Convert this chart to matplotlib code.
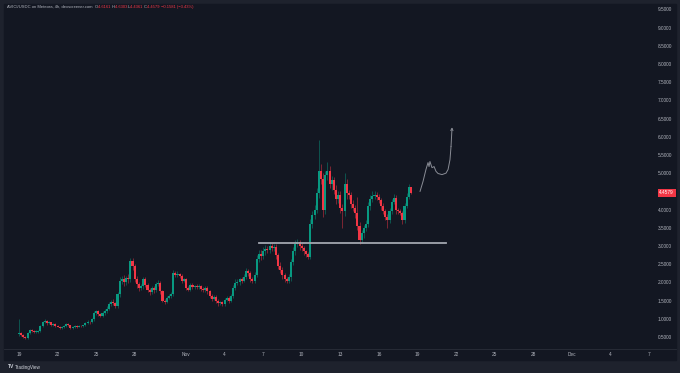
"""AVICI/USDC 4h candles, TradingView style."""
import numpy as np
import pandas as pd
import matplotlib
matplotlib.use("Agg")
import matplotlib.pyplot as plt
import matplotlib.dates as mdates
from matplotlib.patches import Rectangle

# -------------------------------------------------------
# Data.
# -------------------------------------------------------
start = "2024-10-19"
first_open = 0.58
closes = [
    0.62, 0.55, 0.50, 0.47, 0.60, 0.68,
    0.66, 0.64, 0.65, 0.67, 0.80, 0.90,
    0.93, 0.88, 0.90, 0.82, 0.85, 0.80,
    0.78, 0.74, 0.76, 0.80, 0.86, 0.82,
    0.74, 0.77, 0.80, 0.78, 0.81, 0.80,
    0.82, 0.88, 0.92, 0.90, 0.98, 1.15,
    1.20, 1.12, 1.08, 1.15, 1.22, 1.28,
    1.40, 1.46, 1.42, 1.35, 1.68, 2.05,
    2.10, 2.02, 2.12, 2.08, 2.60, 2.45,
    2.10, 1.95, 1.85, 1.90, 2.10, 1.92,
    1.80, 1.74, 1.85, 1.78, 1.95, 1.98,
    1.75, 1.50, 1.46, 1.58, 1.62, 1.68,
    2.25, 2.20, 2.22, 2.18, 2.05, 2.08,
    1.85, 1.80, 1.92, 1.88, 1.90, 1.86,
    1.90, 1.82, 1.78, 1.85, 1.75, 1.62,
    1.55, 1.60, 1.48, 1.42, 1.45, 1.40,
    1.52, 1.58, 1.50, 1.62, 1.85, 1.98,
    2.02, 2.08, 2.05, 2.15, 2.30, 2.25,
    2.10, 2.05, 2.20, 2.65, 2.78, 2.72,
    2.85, 2.92, 2.88, 3.00, 2.95, 2.98,
    2.75, 2.45, 2.35, 2.20, 2.10, 2.05,
    2.15, 2.55, 2.85, 3.05, 3.10, 3.00,
    2.95, 2.85, 2.78, 2.70, 3.60, 3.85,
    4.00, 4.45, 5.05, 4.85, 4.00, 4.95,
    5.05, 4.70, 4.80, 4.55, 4.30, 4.40,
    4.05, 3.95, 4.70, 4.45, 4.40, 4.15,
    4.05, 3.90, 3.55, 3.17, 3.35, 3.50,
    3.60, 4.10, 4.30, 4.38, 4.40, 4.35,
    4.25, 4.10, 3.95, 3.80, 3.72, 3.95,
    4.20, 4.32, 3.98, 3.95, 3.90, 3.70,
    4.10, 4.35, 4.6161, 4.4579,
]
up_wick = [
    0.38, 0.03, 0.02, 0.03, 0.03, 0.04,
    0.03, 0.02, 0.03, 0.02, 0.04, 0.05,
    0.05, 0.03, 0.03, 0.02, 0.04, 0.03,
    0.02, 0.02, 0.03, 0.03, 0.03, 0.02,
    0.02, 0.02, 0.03, 0.02, 0.02, 0.03,
    0.02, 0.04, 0.04, 0.03, 0.03, 0.05,
    0.05, 0.04, 0.03, 0.05, 0.04, 0.06,
    0.06, 0.05, 0.08, 0.04, 0.06, 0.10,
    0.08, 0.10, 0.06, 0.10, 0.06, 0.08,
    0.06, 0.08, 0.05, 0.06, 0.05, 0.06,
    0.05, 0.04, 0.06, 0.05, 0.06, 0.08,
    0.05, 0.04, 0.03, 0.05, 0.06, 0.05,
    0.10, 0.06, 0.08, 0.05, 0.04, 0.05,
    0.05, 0.04, 0.06, 0.05, 0.04, 0.05,
    0.06, 0.04, 0.05, 0.06, 0.04, 0.05,
    0.05, 0.06, 0.04, 0.05, 0.04, 0.03,
    0.04, 0.05, 0.04, 0.05, 0.08, 0.10,
    0.06, 0.05, 0.06, 0.08, 0.10, 0.08,
    0.06, 0.05, 0.08, 0.10, 0.10, 0.12,
    0.12, 0.10, 0.08, 0.12, 0.08, 0.06,
    0.08, 0.06, 0.10, 0.06, 0.05, 0.06,
    0.08, 0.10, 0.12, 0.10, 0.08, 0.06,
    0.08, 0.06, 0.05, 0.06, 0.15, 0.12,
    0.12, 0.15, 0.85, 0.20, 0.15, 0.10,
    0.25, 0.15, 0.12, 0.10, 0.12, 0.10,
    0.12, 0.10, 0.30, 0.15, 0.10, 0.08,
    0.10, 0.08, 0.45, 0.10, 0.10, 0.08,
    0.10, 0.12, 0.10, 0.12, 0.10, 0.08,
    0.08, 0.06, 0.08, 0.06, 0.08, 0.10,
    0.08, 0.10, 0.08, 0.06, 0.06, 0.05,
    0.08, 0.10, 0.08, 0.0142,
]
down_wick = [
    0.06, 0.03, 0.02, 0.03, 0.02, 0.02,
    0.03, 0.02, 0.02, 0.03, 0.02, 0.03,
    0.03, 0.04, 0.02, 0.03, 0.03, 0.03,
    0.02, 0.03, 0.02, 0.02, 0.03, 0.02,
    0.03, 0.02, 0.02, 0.03, 0.02, 0.02,
    0.02, 0.03, 0.03, 0.04, 0.03, 0.04,
    0.04, 0.05, 0.04, 0.03, 0.04, 0.05,
    0.05, 0.04, 0.05, 0.06, 0.05, 0.08,
    0.10, 0.12, 0.08, 0.10, 0.08, 0.10,
    0.08, 0.10, 0.08, 0.06, 0.08, 0.06,
    0.06, 0.08, 0.05, 0.06, 0.05, 0.06,
    0.06, 0.05, 0.06, 0.04, 0.05, 0.04,
    0.05, 0.06, 0.05, 0.06, 0.06, 0.05,
    0.06, 0.05, 0.04, 0.05, 0.06, 0.05,
    0.05, 0.06, 0.05, 0.04, 0.06, 0.05,
    0.05, 0.04, 0.05, 0.08, 0.05, 0.04,
    0.05, 0.04, 0.06, 0.05, 0.04, 0.06,
    0.06, 0.08, 0.06, 0.05, 0.06, 0.08,
    0.08, 0.06, 0.08, 0.06, 0.08, 0.10,
    0.08, 0.10, 0.08, 0.06, 0.10, 0.08,
    0.10, 0.08, 0.10, 0.12, 0.08, 0.06,
    0.08, 0.10, 0.08, 0.10, 0.08, 0.10,
    0.08, 0.10, 0.08, 0.06, 0.05, 0.10,
    0.10, 0.10, 0.12, 0.15, 0.20, 0.12,
    0.15, 0.12, 0.15, 0.12, 0.15, 0.12,
    0.15, 0.45, 0.12, 0.15, 0.10, 0.12,
    0.10, 0.12, 0.10, 0.12, 0.10, 0.12,
    0.10, 0.08, 0.10, 0.08, 0.10, 0.08,
    0.08, 0.10, 0.08, 0.10, 0.22, 0.08,
    0.08, 0.06, 0.10, 0.08, 0.06, 0.10,
    0.06, 0.05, 0.06, 0.0218,
]

# support line and hand-drawn projection (days after start, price)
support_price = 3.08
support_days = [18.68, 33.23]
sketch_days = [31.21, 31.44, 31.67, 31.83, 31.91, 31.98, 32.14, 32.30,
               32.45, 32.61, 32.92, 33.23, 33.39, 33.54, 33.62, 33.70]
sketch_price = [4.50, 4.77, 5.10, 5.29, 5.18, 5.32, 5.15, 5.18,
                5.05, 4.99, 4.96, 5.00, 5.10, 5.37, 5.73, 6.26]

# 4.5000 is hidden behind the last-price tag
ytick_vals = [0.5, 1.0, 1.5, 2.0, 2.5, 3.0, 3.5, 4.0, 5.0,
              5.5, 6.0, 6.5, 7.0, 7.5, 8.0, 8.5, 9.0, 9.5]
xtick_dates = ["2024-10-19", "2024-10-22", "2024-10-25", "2024-10-28",
               "2024-11-01", "2024-11-04", "2024-11-07", "2024-11-10",
               "2024-11-13", "2024-11-16", "2024-11-19", "2024-11-22",
               "2024-11-25", "2024-11-28", "2024-12-01", "2024-12-04",
               "2024-12-07"]
xtick_labels = ["19", "22", "25", "28", "Nov", "4", "7", "10", "13", "16",
                "19", "22", "25", "28", "Dec", "4", "7"]

title_parts = [("AVICI/USDC on Meteora, 4h, dexscreener.com  ", "#b2b5be"),
               ("O", "#b2b5be"), ("4.6161 ", "#f23645"),
               ("H", "#b2b5be"), ("4.6303 ", "#f23645"),
               ("L", "#b2b5be"), ("4.4361 ", "#f23645"),
               ("C", "#b2b5be"), ("4.4579 ", "#f23645"),
               ("\u22120.1581 (\u22123.43%)", "#f23645")]

# -------------------------------------------------------
# Build OHLC.
# -------------------------------------------------------
closes = np.array(closes)
opens = np.concatenate([[first_open], closes[:-1]])
body_top = np.maximum(opens, closes)
body_bot = np.minimum(opens, closes)
highs = body_top + np.array(up_wick)
lows = body_bot - np.array(down_wick)
times = pd.date_range(start, periods=len(closes), freq="4h")
x = mdates.date2num(times)
t0 = mdates.date2num(pd.Timestamp(start))

# -------------------------------------------------------
# Plot.
# -------------------------------------------------------
W, H = 680, 373
bg = "#131722"
frame = "#1e222d"
up_col = "#089981"
dn_col = "#f23645"
txt_col = "#b2b5be"
font = "Liberation Sans"

fig = plt.figure(figsize=(W / 100, H / 100), dpi=100, facecolor=frame)
fig.add_artist(Rectangle((4 / W, 1 - 360 / H), 672 / W, 356 / H,
                         transform=fig.transFigure, color=bg, zorder=0))
ax = fig.add_axes([4 / W, 1 - 349 / H, 672 / W, 345 / H], facecolor=bg)

colors = np.where(closes >= opens, up_col, dn_col)
ax.vlines(x, lows, highs, colors=colors, linewidth=0.6, alpha=0.55, zorder=2)
ax.bar(x, np.maximum(body_top - body_bot, 0.012), bottom=body_bot,
       width=0.16, color=colors, linewidth=0, zorder=3)

# support line
ax.plot([t0 + d for d in support_days], [support_price] * 2,
        color="#a3a6af", linewidth=1.3, zorder=4)

# projection sketch
sx = [t0 + d for d in sketch_days]
ax.plot(sx[:-1], sketch_price[:-1], color="#8a8d96", linewidth=0.7, zorder=4)
ax.annotate("", xy=(sx[-1], sketch_price[-1]), xytext=(sx[-2], sketch_price[-2]),
            arrowprops=dict(arrowstyle="->", color="#8a8d96", lw=0.7,
                            mutation_scale=4, shrinkA=0, shrinkB=0), zorder=4)

# axes
x0 = t0 + (4 - 19) / 12.85
x1 = t0 + (676 - 19) / 12.85
ax.set_xlim(x0, x1)
ax.set_ylim(0.5 - 12 / 36.3, 0.5 + 332 / 36.3)
ax.set_xticks(mdates.date2num(pd.to_datetime(xtick_dates)))
ax.set_xticklabels(xtick_labels)
ax.set_yticks(ytick_vals)
ax.set_yticklabels(["%.4f" % v for v in ytick_vals])
ax.yaxis.tick_right()
ax.tick_params(axis="y", length=0, pad=-3, labelsize=3.4, labelcolor=txt_col)
ax.tick_params(axis="x", length=0, pad=2.5, labelsize=3.4, labelcolor=txt_col)
for lbl in ax.get_yticklabels():
    lbl.set_ha("right")
    lbl.set_fontfamily(font)
for lbl in ax.get_xticklabels():
    lbl.set_fontfamily(font)
for s in ["top", "left", "right"]:
    ax.spines[s].set_visible(False)
ax.spines["bottom"].set_color("#2a2e39")
ax.spines["bottom"].set_linewidth(0.6)

# last price tag
ax.text(0.997, closes[-1], "%.4f" % closes[-1], transform=ax.get_yaxis_transform(),
        ha="right", va="center", fontsize=3.4, color="white", family=font,
        zorder=6, bbox=dict(boxstyle="square,pad=0.35", fc=dn_col, ec="none"))

# title line, drawn piece by piece
fig.canvas.draw()
renderer = fig.canvas.get_renderer()
xpos = 7 / W
for s, c in title_parts:
    t = fig.text(xpos, 1 - 7 / H, s, color=c, fontsize=2.95, family=font,
                 va="center", ha="left")
    bb = t.get_window_extent(renderer=renderer)
    xpos += bb.width / W

# footer logo
fig.text(8 / W, 1 - 367 / H, "TV", color="#d1d4dc", fontsize=3.6,
         fontweight="bold", family=font, va="center")
fig.text(15 / W, 1 - 367 / H, "TradingView", color="#d1d4dc", fontsize=3.3,
         family=font, va="center")

fig.savefig("out.png", dpi=100, facecolor=frame)
plt.close()
